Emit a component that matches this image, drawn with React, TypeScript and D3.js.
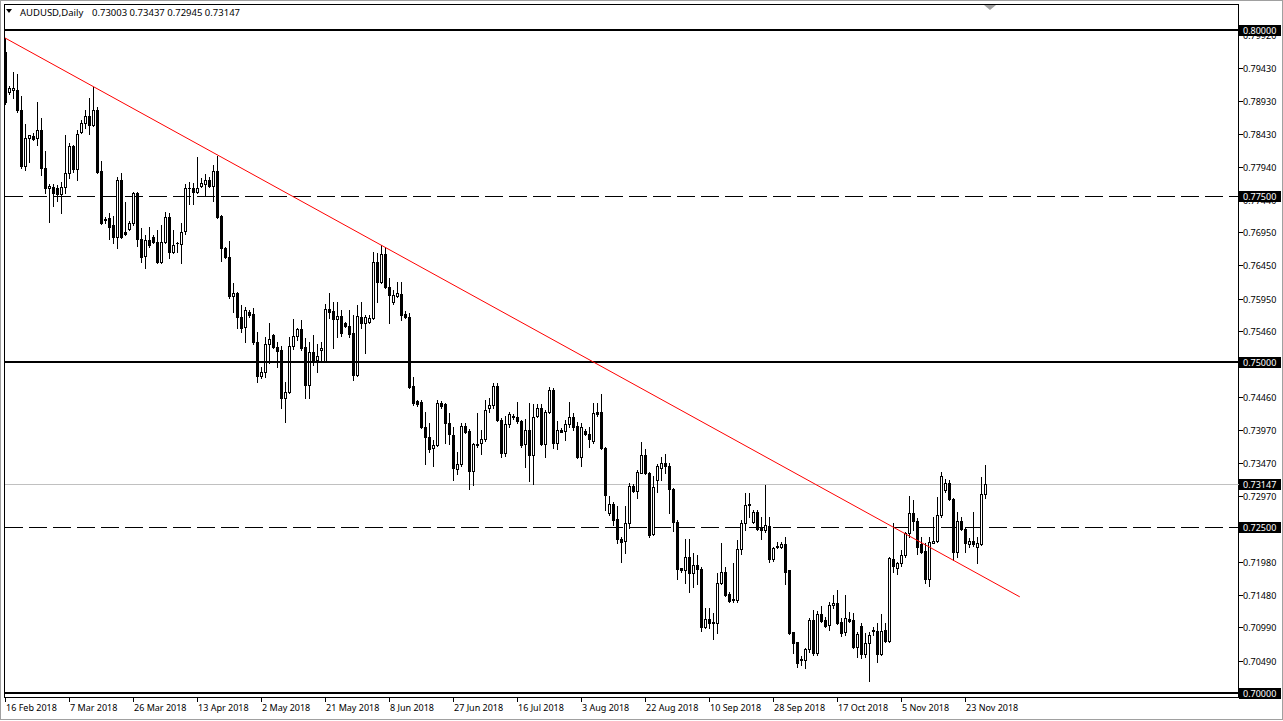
import React, { useEffect, useRef } from 'react';
import * as d3 from 'd3';

const symbol = 'AUDUSD,Daily';

// daily OHLC, one entry per bar (Sunday bars included, as the broker shows them)
const opens = [
  0.7967, 0.7906, 0.7910, 0.7909, 0.7879, 0.7795, 0.7837, 0.7840, 0.7837, 0.7849,
  0.7792, 0.7762, 0.7763, 0.7762, 0.7753, 0.7763, 0.7784, 0.7825, 0.7790, 0.7846,
  0.7860, 0.7870, 0.7857, 0.7879, 0.7787, 0.7715, 0.7716, 0.7706, 0.7688, 0.7774,
  0.7695, 0.7700, 0.7709, 0.7754, 0.7685, 0.7659, 0.7683, 0.7688, 0.7680, 0.7650,
  0.7680, 0.7718, 0.7665, 0.7678, 0.7677, 0.7697, 0.7762, 0.7761, 0.7756, 0.7765,
  0.7768, 0.7774, 0.7765, 0.7787, 0.7719, 0.7671, 0.7658, 0.7599, 0.7604, 0.7567,
  0.7552, 0.7575, 0.7572, 0.7529, 0.7478, 0.7484, 0.7526, 0.7540, 0.7522, 0.7517,
  0.7445, 0.7454, 0.7523, 0.7538, 0.7549, 0.7522, 0.7465, 0.7514, 0.7502, 0.7518,
  0.7500, 0.7579, 0.7576, 0.7564, 0.7569, 0.7558, 0.7554, 0.7543, 0.7480, 0.7567,
  0.7558, 0.7560, 0.7566, 0.7650, 0.7620, 0.7662, 0.7613, 0.7590, 0.7599, 0.7602,
  0.7572, 0.7567, 0.7463, 0.7440, 0.7439, 0.7401, 0.7386, 0.7369, 0.7374, 0.7437,
  0.7436, 0.7407, 0.7389, 0.7338, 0.7345, 0.7403, 0.7395, 0.7335, 0.7376, 0.7377,
  0.7383, 0.7430, 0.7434, 0.7463, 0.7412, 0.7362, 0.7406, 0.7418, 0.7416, 0.7410,
  0.7376, 0.7397, 0.7359, 0.7418, 0.7430, 0.7376, 0.7424, 0.7457, 0.7377, 0.7397,
  0.7395, 0.7406, 0.7416, 0.7403, 0.7356, 0.7395, 0.7391, 0.7380, 0.7424, 0.7424,
  0.7369, 0.7271, 0.7285, 0.7262, 0.7232, 0.7229, 0.7256, 0.7312, 0.7305, 0.7332,
  0.7359, 0.7332, 0.7240, 0.7321, 0.7339, 0.7347, 0.7342, 0.7308, 0.7258, 0.7189,
  0.7185, 0.7205, 0.7181, 0.7193, 0.7187, 0.7100, 0.7112, 0.7107, 0.7106, 0.7166,
  0.7183, 0.7149, 0.7142, 0.7140, 0.7217, 0.7256, 0.7285, 0.7258, 0.7273, 0.7250,
  0.7246, 0.7252, 0.7202, 0.7220, 0.7220, 0.7225, 0.7185, 0.7092, 0.7077, 0.7051,
  0.7050, 0.7066, 0.7110, 0.7060, 0.7119, 0.7110, 0.7103, 0.7133, 0.7136, 0.7107,
  0.7092, 0.7112, 0.7110, 0.7069, 0.7101, 0.7059, 0.7075, 0.7094, 0.7094, 0.7059,
  0.7095, 0.7079, 0.7202, 0.7189, 0.7196, 0.7208, 0.7241, 0.7271, 0.7259, 0.7225,
  0.7214, 0.7172, 0.7226, 0.7229, 0.7268, 0.7306, 0.7317, 0.7292, 0.7213, 0.7259,
  0.7247, 0.7225, 0.7229, 0.7220, 0.7225, 0.73003,
];
const highs = [
  0.7988, 0.7916, 0.7936, 0.7934, 0.7901, 0.7858, 0.7842, 0.7844, 0.7892, 0.7867,
  0.7817, 0.7768, 0.7768, 0.7766, 0.7771, 0.7841, 0.7830, 0.7827, 0.7849, 0.7865,
  0.7879, 0.7898, 0.7914, 0.7884, 0.7802, 0.7718, 0.7724, 0.7719, 0.7778, 0.7784,
  0.7741, 0.7712, 0.7756, 0.7756, 0.7701, 0.7691, 0.7703, 0.7691, 0.7698, 0.7706,
  0.7726, 0.7724, 0.7698, 0.7680, 0.7709, 0.7768, 0.7771, 0.7769, 0.7809, 0.7777,
  0.7783, 0.7778, 0.7796, 0.7810, 0.7721, 0.7673, 0.7682, 0.7619, 0.7605, 0.7585,
  0.7582, 0.7578, 0.7581, 0.7545, 0.7492, 0.7537, 0.7558, 0.7542, 0.7529, 0.7523,
  0.7469, 0.7537, 0.7564, 0.7551, 0.7563, 0.7535, 0.7529, 0.7540, 0.7526, 0.7529,
  0.7587, 0.7604, 0.7590, 0.7590, 0.7578, 0.7560, 0.7578, 0.7570, 0.7585, 0.7590,
  0.7570, 0.7570, 0.7665, 0.7664, 0.7676, 0.7673, 0.7626, 0.7608, 0.7620, 0.7620,
  0.7576, 0.7573, 0.7476, 0.7442, 0.7442, 0.7424, 0.7407, 0.7382, 0.7442, 0.7440,
  0.7437, 0.7422, 0.7401, 0.7363, 0.7407, 0.7407, 0.7398, 0.7377, 0.7422, 0.7397,
  0.7442, 0.7445, 0.7468, 0.7468, 0.7415, 0.7418, 0.7424, 0.7421, 0.7439, 0.7412,
  0.7413, 0.7437, 0.7436, 0.7436, 0.7436, 0.7427, 0.7461, 0.7460, 0.7410, 0.7399,
  0.7412, 0.7439, 0.7422, 0.7409, 0.7407, 0.7398, 0.7401, 0.7437, 0.7437, 0.7451,
  0.7371, 0.7297, 0.7288, 0.7282, 0.7235, 0.7282, 0.7317, 0.7315, 0.7336, 0.7379,
  0.7368, 0.7333, 0.7327, 0.7345, 0.7356, 0.7360, 0.7347, 0.7309, 0.7261, 0.7189,
  0.7232, 0.7232, 0.7211, 0.7208, 0.7190, 0.7128, 0.7128, 0.7121, 0.7181, 0.7226,
  0.7190, 0.7152, 0.7196, 0.7231, 0.7261, 0.7302, 0.7302, 0.7276, 0.7276, 0.7265,
  0.7314, 0.7265, 0.7220, 0.7228, 0.7228, 0.7235, 0.7186, 0.7092, 0.7077, 0.7056,
  0.7068, 0.7113, 0.7125, 0.7124, 0.7131, 0.7115, 0.7137, 0.7148, 0.7155, 0.7113,
  0.7148, 0.7122, 0.7121, 0.7092, 0.7106, 0.7090, 0.7092, 0.7100, 0.7106, 0.7119,
  0.7106, 0.7205, 0.7256, 0.7198, 0.7216, 0.7243, 0.7297, 0.7291, 0.7264, 0.7235,
  0.7226, 0.7235, 0.7265, 0.7296, 0.7334, 0.7323, 0.7321, 0.7294, 0.7273, 0.7265,
  0.7250, 0.7234, 0.7273, 0.7235, 0.7326, 0.73437,
];
const lows = [
  0.7889, 0.7903, 0.7898, 0.7877, 0.7792, 0.7789, 0.7801, 0.7834, 0.7826, 0.7781,
  0.7754, 0.7710, 0.7735, 0.7742, 0.7724, 0.7754, 0.7777, 0.7786, 0.7774, 0.7844,
  0.7852, 0.7843, 0.7855, 0.7785, 0.7708, 0.7709, 0.7685, 0.7679, 0.7671, 0.7686,
  0.7691, 0.7698, 0.7706, 0.7674, 0.7650, 0.7641, 0.7673, 0.7679, 0.7649, 0.7649,
  0.7679, 0.7656, 0.7664, 0.7665, 0.7649, 0.7692, 0.7738, 0.7738, 0.7754, 0.7763,
  0.7750, 0.7763, 0.7742, 0.7716, 0.7651, 0.7656, 0.7596, 0.7575, 0.7551, 0.7545,
  0.7529, 0.7567, 0.7527, 0.7469, 0.7475, 0.7476, 0.7498, 0.7520, 0.7492, 0.7430,
  0.7409, 0.7453, 0.7519, 0.7532, 0.7517, 0.7445, 0.7445, 0.7495, 0.7484, 0.7499,
  0.7499, 0.7566, 0.7520, 0.7537, 0.7538, 0.7552, 0.7537, 0.7472, 0.7478, 0.7551,
  0.7513, 0.7558, 0.7564, 0.7590, 0.7618, 0.7611, 0.7558, 0.7587, 0.7597, 0.7563,
  0.7566, 0.7460, 0.7435, 0.7433, 0.7399, 0.7345, 0.7363, 0.7343, 0.7372, 0.7430,
  0.7377, 0.7376, 0.7321, 0.7330, 0.7343, 0.7392, 0.7308, 0.7314, 0.7371, 0.7360,
  0.7380, 0.7424, 0.7430, 0.7410, 0.7356, 0.7357, 0.7401, 0.7413, 0.7407, 0.7371,
  0.7341, 0.7320, 0.7315, 0.7416, 0.7374, 0.7356, 0.7422, 0.7370, 0.7368, 0.7394,
  0.7382, 0.7401, 0.7397, 0.7354, 0.7342, 0.7389, 0.7371, 0.7377, 0.7418, 0.7368,
  0.7276, 0.7268, 0.7253, 0.7226, 0.7198, 0.7211, 0.7249, 0.7303, 0.7294, 0.7332,
  0.7331, 0.7235, 0.7238, 0.7303, 0.7321, 0.7332, 0.7271, 0.7244, 0.7172, 0.7183,
  0.7166, 0.7152, 0.7160, 0.7164, 0.7094, 0.7098, 0.7098, 0.7082, 0.7091, 0.7164,
  0.7146, 0.7137, 0.7137, 0.7137, 0.7210, 0.7246, 0.7265, 0.7256, 0.7246, 0.7232,
  0.7243, 0.7198, 0.7199, 0.7219, 0.7219, 0.7165, 0.7089, 0.7060, 0.7039, 0.7042,
  0.7038, 0.7062, 0.7058, 0.7058, 0.7107, 0.7100, 0.7095, 0.7128, 0.7104, 0.7086,
  0.7087, 0.7107, 0.7068, 0.7054, 0.7053, 0.7054, 0.7018, 0.7088, 0.7047, 0.7057,
  0.7077, 0.7077, 0.7183, 0.7180, 0.7192, 0.7205, 0.7235, 0.7246, 0.7210, 0.7211,
  0.7166, 0.7161, 0.7226, 0.7228, 0.7266, 0.7303, 0.7291, 0.7201, 0.7205, 0.7246,
  0.7213, 0.7220, 0.7222, 0.7196, 0.7223, 0.72945,
];
const closes = [
  0.7892, 0.7913, 0.7913, 0.7879, 0.7795, 0.7837, 0.7841, 0.7836, 0.7849, 0.7792,
  0.7762, 0.7764, 0.7754, 0.7753, 0.7763, 0.7784, 0.7825, 0.7790, 0.7843, 0.7860,
  0.7870, 0.7857, 0.7879, 0.7786, 0.7709, 0.7713, 0.7703, 0.7688, 0.7774, 0.7688,
  0.7692, 0.7709, 0.7754, 0.7685, 0.7658, 0.7683, 0.7676, 0.7680, 0.7650, 0.7680,
  0.7718, 0.7665, 0.7676, 0.7679, 0.7695, 0.7762, 0.7761, 0.7756, 0.7762, 0.7769,
  0.7774, 0.7765, 0.7787, 0.7718, 0.7671, 0.7658, 0.7599, 0.7604, 0.7567, 0.7551,
  0.7578, 0.7570, 0.7529, 0.7478, 0.7484, 0.7526, 0.7534, 0.7522, 0.7516, 0.7445,
  0.7454, 0.7523, 0.7538, 0.7549, 0.7520, 0.7465, 0.7514, 0.7502, 0.7508, 0.7520,
  0.7579, 0.7575, 0.7564, 0.7569, 0.7543, 0.7554, 0.7541, 0.7480, 0.7569, 0.7558,
  0.7567, 0.7566, 0.7650, 0.7620, 0.7662, 0.7613, 0.7601, 0.7601, 0.7604, 0.7570,
  0.7567, 0.7461, 0.7437, 0.7436, 0.7401, 0.7386, 0.7368, 0.7374, 0.7437, 0.7433,
  0.7407, 0.7391, 0.7339, 0.7345, 0.7403, 0.7394, 0.7335, 0.7376, 0.7374, 0.7383,
  0.7427, 0.7434, 0.7463, 0.7412, 0.7362, 0.7406, 0.7421, 0.7416, 0.7410, 0.7374,
  0.7397, 0.7359, 0.7416, 0.7430, 0.7376, 0.7424, 0.7457, 0.7377, 0.7397, 0.7394,
  0.7406, 0.7416, 0.7401, 0.7356, 0.7401, 0.7391, 0.7383, 0.7422, 0.7421, 0.7369,
  0.7299, 0.7285, 0.7261, 0.7232, 0.7228, 0.7256, 0.7312, 0.7305, 0.7334, 0.7359,
  0.7332, 0.7238, 0.7310, 0.7342, 0.7347, 0.7342, 0.7308, 0.7258, 0.7187, 0.7185,
  0.7205, 0.7181, 0.7193, 0.7187, 0.7100, 0.7112, 0.7106, 0.7106, 0.7166, 0.7183,
  0.7148, 0.7139, 0.7140, 0.7217, 0.7256, 0.7283, 0.7283, 0.7273, 0.7247, 0.7246,
  0.7253, 0.7202, 0.7219, 0.7221, 0.7225, 0.7183, 0.7091, 0.7075, 0.7045, 0.7050,
  0.7066, 0.7110, 0.7060, 0.7119, 0.7109, 0.7101, 0.7133, 0.7136, 0.7106, 0.7091,
  0.7113, 0.7109, 0.7069, 0.7089, 0.7059, 0.7075, 0.7088, 0.7095, 0.7059, 0.7094,
  0.7079, 0.7204, 0.7192, 0.7196, 0.7208, 0.7241, 0.7271, 0.7259, 0.7220, 0.7213,
  0.7172, 0.7228, 0.7229, 0.7268, 0.7328, 0.7317, 0.7292, 0.7213, 0.7259, 0.7247,
  0.7226, 0.7229, 0.7225, 0.7226, 0.7300, 0.73147,
];

// bottom axis: a label every 16 bars starting at bar 0
const dateLabels = [
  '16 Feb 2018', '7 Mar 2018', '26 Mar 2018', '13 Apr 2018', '2 May 2018', '21 May 2018',
  '8 Jun 2018', '27 Jun 2018', '16 Jul 2018', '3 Aug 2018', '22 Aug 2018', '10 Sep 2018',
  '28 Sep 2018', '17 Oct 2018', '5 Nov 2018', '23 Nov 2018',
];
const barsPerLabel = 16;

const priceTicks = [
  0.7992, 0.7943, 0.7893, 0.7843, 0.7794, 0.7744, 0.7695, 0.7645, 0.7595, 0.7546,
  0.7496, 0.7446, 0.7397, 0.7347, 0.7297, 0.7247, 0.7198, 0.7148, 0.7099, 0.7049,
];

const solidLevels = [0.8, 0.75, 0.7];
const dashedLevels = [0.775, 0.725];
const bid = 0.73147;
const trendStart = { bar: 0, price: 0.7988 };
const trendEnd = { bar: 253.7, price: 0.7145 };

const W = 1283;
const H = 721;
const FONT = '"Noto Sans", "DejaVu Sans", sans-serif';

const App: React.FC = () => {
  const ref = useRef<SVGSVGElement>(null);

  useEffect(() => {
    if (!ref.current) return;
    const svg = d3.select(ref.current);
    svg.selectAll('*').remove();

    const left = 4.5, right = 1238.5, top = 4.5, bottom = 697.5;

    const x = d3.scaleLinear().domain([0, 245]).range([5, 985]);
    const y = d3.scaleLinear().domain([0.7, 0.8]).range([693, 30]);

    // window edge
    svg.append('rect').attr('x', 0.5).attr('y', 0.5).attr('width', W - 1).attr('height', H - 2)
      .attr('fill', '#fff').attr('stroke', '#a0a0a0');

    // plot frame
    svg.append('rect').attr('x', left).attr('y', top)
      .attr('width', right - left).attr('height', bottom - top)
      .attr('fill', '#fff').attr('stroke', '#000');

    // chart shift marker
    svg.append('polygon').attr('points', '984,5 996,5 990,10').attr('fill', '#a0a0a0');

    const g = svg.append('g').attr('shape-rendering', 'crispEdges');
    const py = (p: number) => Math.round(y(p));

    // bid line
    g.append('line').attr('x1', 5).attr('x2', right).attr('y1', py(bid) + 0.5).attr('y2', py(bid) + 0.5)
      .attr('stroke', '#c0c0c0');

    // dashed levels
    g.selectAll('line.dash').data(dashedLevels).join('line').attr('class', 'dash')
      .attr('x1', 5).attr('x2', right)
      .attr('y1', d => py(d) + 0.5).attr('y2', d => py(d) + 0.5)
      .attr('stroke', '#000').attr('stroke-dasharray', '18,6');

    // candles
    const bars = opens.map((o, i) => ({ i, o, h: highs[i], l: lows[i], c: closes[i] }));
    const cg = g.append('g');
    bars.forEach(b => {
      const cx = Math.round(x(b.i));
      const yo = py(b.o), yc = py(b.c), yh = py(b.h), yl = py(b.l);
      cg.append('line').attr('x1', cx + 0.5).attr('x2', cx + 0.5)
        .attr('y1', yh).attr('y2', yl + 1).attr('stroke', '#000');
      const t = Math.min(yo, yc), btm = Math.max(yo, yc);
      if (b.c > b.o && btm - t >= 2) {
        cg.append('rect').attr('x', cx - 0.5).attr('y', t + 0.5)
          .attr('width', 2).attr('height', btm - t)
          .attr('fill', '#fff').attr('stroke', '#000');
      } else {
        cg.append('rect').attr('x', cx - 1).attr('y', t)
          .attr('width', 3).attr('height', Math.max(1, btm - t + 1))
          .attr('fill', '#000');
      }
    });

    // solid levels
    g.selectAll('line.solid').data(solidLevels).join('line').attr('class', 'solid')
      .attr('x1', 5).attr('x2', right)
      .attr('y1', d => py(d)).attr('y2', d => py(d))
      .attr('stroke', '#000').attr('stroke-width', 2);

    // trend line
    svg.append('line')
      .attr('x1', x(trendStart.bar)).attr('y1', y(trendStart.price))
      .attr('x2', x(trendEnd.bar)).attr('y2', y(trendEnd.price))
      .attr('stroke', '#ff0000').attr('stroke-width', 1);

    // price axis
    const axis = svg.append('g').attr('font-family', FONT).attr('font-size', 9);
    priceTicks.forEach(p => {
      const yy = py(p);
      axis.append('line').attr('x1', right).attr('x2', right + 4)
        .attr('y1', yy + 0.5).attr('y2', yy + 0.5).attr('stroke', '#000')
        .attr('shape-rendering', 'crispEdges');
      axis.append('text').attr('x', 1243).attr('y', yy + 3.5).attr('fill', '#000')
        .text(p.toFixed(5));
    });

    // highlighted level labels
    [...solidLevels, ...dashedLevels, bid].forEach(p => {
      const yy = py(p);
      axis.append('rect').attr('x', 1239).attr('y', yy - 5).attr('width', 42).attr('height', 11)
        .attr('fill', '#000');
      axis.append('text').attr('x', 1243).attr('y', yy + 4).attr('fill', '#fff')
        .text(p.toFixed(5));
    });

    // date axis
    dateLabels.forEach((lab, k) => {
      const xx = Math.round(x(k * barsPerLabel));
      axis.append('line').attr('x1', xx + 0.5).attr('x2', xx + 0.5)
        .attr('y1', bottom).attr('y2', bottom + 4).attr('stroke', '#000')
        .attr('shape-rendering', 'crispEdges');
      axis.append('text').attr('x', xx + 1).attr('y', 711).attr('fill', '#000').text(lab);
    });

    // title
    svg.append('polygon').attr('points', '6,9 12,9 9,13').attr('fill', '#000');
    const last = bars[bars.length - 1];
    const title = svg.append('text').attr('y', 16).attr('font-family', FONT).attr('font-size', 9.5)
      .attr('fill', '#000');
    title.append('tspan').attr('x', 20).text(symbol);
    title.append('tspan').attr('x', 92)
      .text(`${last.o.toFixed(5)} ${last.h.toFixed(5)} ${last.l.toFixed(5)} ${last.c.toFixed(5)}`);
  }, []);

  return (
    <svg ref={ref} width={W} height={H}
      style={{ position: 'absolute', left: 0, top: 0, display: 'block', background: '#fff' }} />
  );
};

export default App;
